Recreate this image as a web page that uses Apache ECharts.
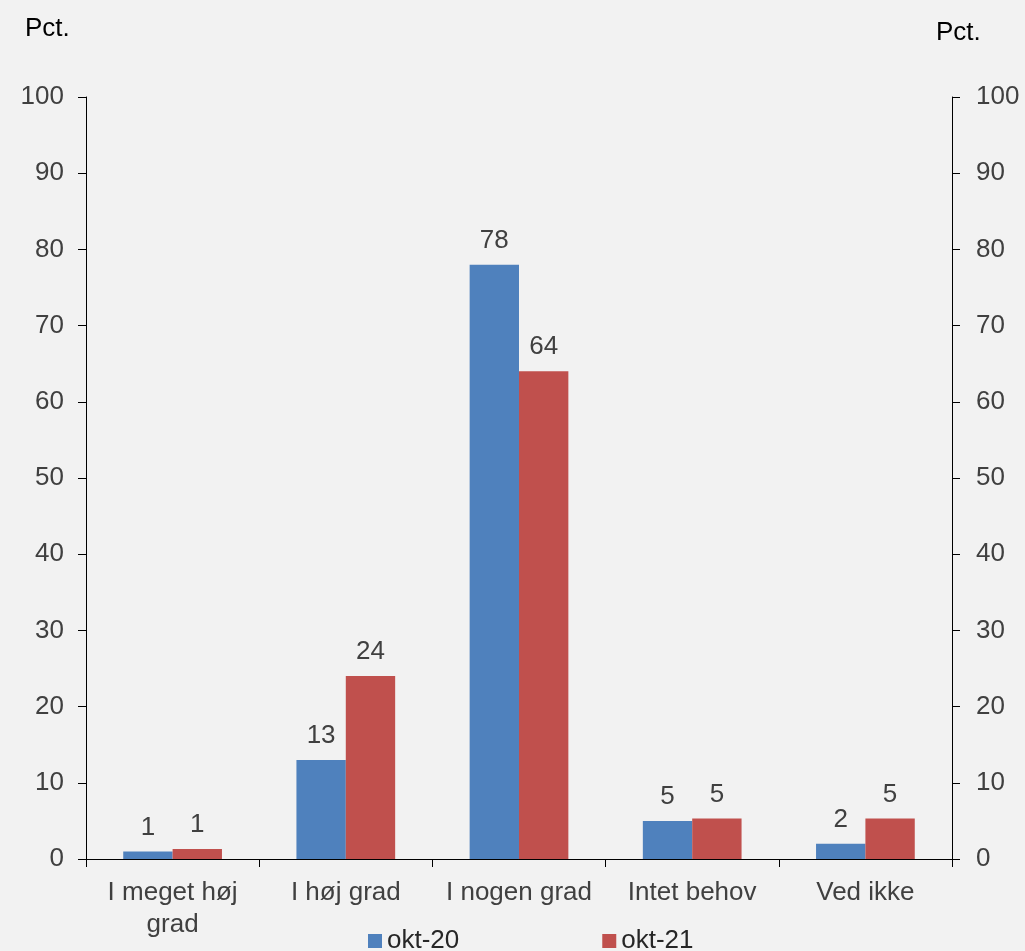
<!DOCTYPE html>
<html>
<head>
<meta charset="utf-8">
<script src="https://cdn.jsdelivr.net/npm/echarts@6/dist/echarts.min.js"></script>
<style>
html,body{margin:0;padding:0;background:#f2f2f2;}
#c{width:1025px;height:951px;}
</style>
</head>
<body>
<div id="c"></div>
<script>
const categories = ["I meget høj\ngrad", "I høj grad", "I nogen grad", "Intet behov", "Ved ikke"];
const okt20 = [1.0, 13.0, 78.0, 5.0, 2.0];
const okt21 = [1.3, 24.0, 64.0, 5.3, 5.3];
const seriesNames = ["okt-20", "okt-21"];
const yTicks = [0, 10, 20, 30, 40, 50, 60, 70, 80, 90, 100];

const FONT = '"Liberation Sans", Arial, sans-serif';
const FS = 26;
const chart = echarts.init(document.getElementById('c'));
const axisLine = {show: true, lineStyle: {color: '#000', width: 1}};
const labelStyle = {fontSize: FS, color: '#404040', fontFamily: FONT};
chart.setOption({
  backgroundColor: '#f2f2f2',
  animation: false,
  textStyle: {fontFamily: FONT},
  graphic: [
    {type: 'text', left: 25, top: 16, style: {text: 'Pct.', fontSize: FS, fill: '#000', fontFamily: FONT}},
    {type: 'text', left: 936, top: 20, style: {text: 'Pct.', fontSize: FS, fill: '#000', fontFamily: FONT}}
  ],
  legend: {
    top: 923, left: 363,
    itemWidth: 14, itemHeight: 14, itemGap: 143,
    icon: 'rect',
    textStyle: {fontSize: FS, color: '#262626', fontFamily: FONT},
    data: seriesNames
  },
  grid: {left: 86, right: 73, top: 97, bottom: 92, containLabel: false},
  xAxis: {
    type: 'category', data: categories,
    axisLine: axisLine,
    axisTick: {show: true, length: 8, lineStyle: {color: '#000'}},
    axisLabel: Object.assign({margin: 18, lineHeight: 32, interval: 0}, labelStyle),
    splitLine: {show: false}
  },
  yAxis: [
    {type: 'value', min: 0, max: 100, interval: 10, position: 'left',
     axisLine: axisLine, axisTick: {show: true, length: 8, lineStyle: {color: '#000'}},
     axisLabel: Object.assign({margin: 22, formatter: v => yTicks.includes(v) ? String(v) : ''}, labelStyle),
     splitLine: {show: false}},
    {type: 'value', min: 0, max: 100, interval: 10, position: 'right',
     axisLine: axisLine, axisTick: {show: true, length: 8, lineStyle: {color: '#000'}},
     axisLabel: Object.assign({margin: 24, formatter: v => yTicks.includes(v) ? String(v) : ''}, labelStyle),
     splitLine: {show: false}}
  ],
  series: [
    {name: seriesNames[0], type: 'bar', data: okt20, barGap: '0%', barCategoryGap: '43%',
     itemStyle: {color: '#4f81bd'},
     label: {show: true, position: 'top', distance: 11, fontSize: FS, color: '#404040', fontFamily: FONT,
             formatter: p => Math.round(p.value)}},
    {name: seriesNames[1], type: 'bar', data: okt21, barGap: '0%', barCategoryGap: '43%',
     itemStyle: {color: '#c0504d'},
     label: {show: true, position: 'top', distance: 11, fontSize: FS, color: '#404040', fontFamily: FONT,
             formatter: p => Math.round(p.value)}}
  ]
});
</script>
</body>
</html>
